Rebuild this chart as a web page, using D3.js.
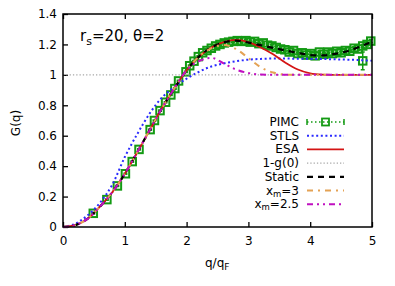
<!DOCTYPE html>
<html>
<head>
<meta charset="utf-8">
<script src="https://cdn.jsdelivr.net/npm/d3@7"></script>
<style>
  body { margin: 0; background: #fff; }
  text { font-family: "DejaVu Sans", sans-serif; fill: #000; }
</style>
</head>
<body>
<div id="canvas"></div>
<script>
const width = 395;
const height = 286;
const margin = { top: 14, left: 63, bottom: 59, right: 23 };
const iwidth = width - margin.left - margin.right;
const iheight = height - margin.top - margin.bottom;

// theory curves on a q grid of 0.2
const qGrid = [0, 0.2, 0.4, 0.6, 0.8, 1.0, 1.2, 1.4, 1.6, 1.8, 2.0, 2.2, 2.4,
  2.6, 2.8, 3.0, 3.2, 3.4, 3.6, 3.8, 4.0, 4.2, 4.4, 4.6, 4.8, 5.0];
const stls = [0, 0.022, 0.077, 0.16, 0.28, 0.46, 0.61, 0.745, 0.85, 0.92, 0.975,
  1.02, 1.055, 1.075, 1.09, 1.1, 1.105, 1.107, 1.107, 1.106, 1.105, 1.104,
  1.102, 1.1, 1.097, 1.093];
const esa = [0, 0.012, 0.055, 0.135, 0.23, 0.35, 0.49, 0.635, 0.78, 0.91, 1.03,
  1.12, 1.18, 1.215, 1.23, 1.215, 1.18, 1.135, 1.08, 1.035, 1.01, 1.002, 1.0,
  1.0, 1.0, 1.0];
const staticG = [0, 0.012, 0.055, 0.135, 0.23, 0.35, 0.49, 0.635, 0.78, 0.91,
  1.03, 1.12, 1.18, 1.213, 1.225, 1.212, 1.195, 1.177, 1.16, 1.145, 1.13, 1.128,
  1.138, 1.155, 1.185, 1.217];
const xm3 = [0, 0.012, 0.055, 0.135, 0.23, 0.35, 0.49, 0.635, 0.78, 0.91, 1.03,
  1.12, 1.175, 1.197, 1.17, 1.11, 1.05, 1.015, 1.002, 1.0, 1.0, 1.0, 1.0, 1.0,
  1.0, 1.0];
const xm25 = [0, 0.012, 0.055, 0.135, 0.23, 0.35, 0.49, 0.635, 0.78, 0.91, 1.03,
  1.09, 1.112, 1.075, 1.035, 1.012, 1.002, 1.0, 1.0, 1.0, 1.0, 1.0, 1.0, 1.0,
  1.0, 1.0];
const oneMinusG0 = 1.0;

// PIMC points
const pimcQ = [0.49, 0.71, 0.88, 1.01, 1.12, 1.23, 1.41, 1.48, 1.57, 1.66, 1.745,
  1.81, 1.87, 1.99, 2.05, 2.12, 2.19, 2.26, 2.33, 2.40, 2.47, 2.54, 2.61, 2.68,
  2.75, 2.82, 2.89, 2.96, 3.03, 3.10, 3.17, 3.24, 3.31, 3.38, 3.45, 3.52, 3.59,
  3.66, 3.73, 3.80, 3.87, 3.94, 4.01, 4.08, 4.15, 4.22, 4.29, 4.36, 4.43, 4.50,
  4.57, 4.64, 4.71, 4.78, 4.85, 4.85, 4.92, 4.98];
const pimcG = [0.09, 0.18, 0.27, 0.35, 0.43, 0.51, 0.64, 0.70, 0.765, 0.82, 0.868,
  0.91, 0.96, 1.02, 1.06, 1.09, 1.12, 1.145, 1.16, 1.175, 1.19, 1.20, 1.21, 1.215,
  1.22, 1.225, 1.22, 1.225, 1.215, 1.22, 1.205, 1.21, 1.195, 1.19, 1.18, 1.17,
  1.165, 1.15, 1.16, 1.14, 1.145, 1.13, 1.14, 1.125, 1.15, 1.135, 1.15, 1.14,
  1.155, 1.145, 1.16, 1.155, 1.175, 1.17, 1.19, 1.092, 1.2, 1.222];
const pimcErr = [0.004, 0.004, 0.004, 0.004, 0.004, 0.004, 0.004, 0.004, 0.004,
  0.004, 0.004, 0.004, 0.004, 0.004, 0.004, 0.004, 0.006, 0.006, 0.006, 0.006,
  0.006, 0.006, 0.006, 0.006, 0.006, 0.006, 0.006, 0.006, 0.008, 0.008, 0.008,
  0.008, 0.008, 0.008, 0.008, 0.008, 0.008, 0.008, 0.008, 0.008, 0.008, 0.008,
  0.01, 0.01, 0.01, 0.01, 0.01, 0.01, 0.01, 0.01, 0.01, 0.01, 0.01, 0.01, 0.01,
  0.058, 0.01, 0.01];

const xTicks = [0, 1, 2, 3, 4, 5];
const yTicks = [0, 0.2, 0.4, 0.6, 0.8, 1, 1.2, 1.4];

const svg = d3.select("#canvas").append("svg")
  .attr("width", width)
  .attr("height", height);

const g = svg.append("g")
  .attr("transform", `translate(${margin.left},${margin.top})`);

const x = d3.scaleLinear().domain([0, 5]).range([0, iwidth]);
const y = d3.scaleLinear().domain([0, 1.4]).range([iheight, 0]);

// axes, ticks pointing inward
g.append("g")
  .attr("transform", `translate(0,${iheight})`)
  .call(d3.axisBottom(x).tickValues(xTicks).tickSize(-5).tickPadding(9.5)
    .tickFormat(d3.format("d")))
  .call((a) => a.select(".domain").remove());
g.append("g")
  .call(d3.axisTop(x).tickValues(xTicks).tickSize(-5).tickFormat(""))
  .call((a) => a.select(".domain").remove());
g.append("g")
  .call(d3.axisLeft(y).tickValues(yTicks).tickSize(-5).tickPadding(6)
    .tickFormat((d) => (d === 0 || d === 1 ? d3.format("d")(d) : d3.format(".1f")(d))))
  .call((a) => a.select(".domain").remove());

g.selectAll(".tick line").attr("stroke", "#000").attr("stroke-width", 1.3);
g.selectAll(".tick text").attr("font-size", 12).attr("font-family", "DejaVu Sans");

const theory = (vals) => qGrid.map((q, i) => [q, vals[i]]);
const line = d3.line()
  .x((d) => x(d[0]))
  .y((d) => y(d[1]))
  .curve(d3.curveMonotoneX);

const plot = g.append("g");

// PIMC: dotted line, error bars, open squares
const pimc = pimcQ.map((q, i) => [q, pimcG[i], pimcErr[i]]);
const green = "#139a13";
plot.append("path")
  .datum(pimc.filter((d, i) => i !== 55))
  .attr("fill", "none")
  .attr("stroke", green)
  .attr("stroke-width", 1.5)
  .attr("stroke-dasharray", "1.5,2.5")
  .attr("d", d3.line().x((d) => x(d[0])).y((d) => y(d[1])));
plot.selectAll(".err")
  .data(pimc)
  .enter()
  .append("path")
  .attr("fill", "none")
  .attr("stroke", green)
  .attr("stroke-width", 1.5)
  .attr("d", (d) => {
    const px = x(d[0]), lo = y(d[1] - d[2]), hi = y(d[1] + d[2]);
    return `M${px},${lo}V${hi}M${px - 2},${lo}H${px + 2}M${px - 2},${hi}H${px + 2}`;
  });
plot.selectAll(".pt")
  .data(pimc)
  .enter()
  .append("rect")
  .attr("x", (d) => x(d[0]) - 3.75)
  .attr("y", (d) => y(d[1]) - 3.75)
  .attr("width", 7.5)
  .attr("height", 7.5)
  .attr("fill", "none")
  .attr("stroke", green)
  .attr("stroke-width", 2);

const styles = [
  { data: stls, color: "#2a2aff", w: 2, dash: "2,2.6" },
  { data: esa, color: "#d41414", w: 1.8, dash: null },
  { data: qGrid.map(() => oneMinusG0), color: "#a8a8a8", w: 1.2, dash: "1.3,2" },
  { data: staticG, color: "#000", w: 2.2, dash: "6,5" },
  { data: xm3, color: "#e4a254", w: 2, dash: "6,5,2,5" },
  { data: xm25, color: "#c010c0", w: 2, dash: "6,4,2,4,2,4" },
];
styles.forEach((s) => {
  plot.append("path")
    .datum(theory(s.data))
    .attr("fill", "none")
    .attr("stroke", s.color)
    .attr("stroke-width", s.w)
    .attr("stroke-dasharray", s.dash)
    .attr("d", line);
});

// border
g.append("rect")
  .attr("width", iwidth)
  .attr("height", iheight)
  .attr("fill", "none")
  .attr("stroke", "#000")
  .attr("stroke-width", 1.5);

// title
const title = svg.append("text")
  .attr("x", 80)
  .attr("y", 41)
  .attr("font-size", 15);
title.append("tspan").text("r");
title.append("tspan").attr("font-size", 11).attr("dy", 4).text("s");
title.append("tspan").attr("dy", -4).text("=20, θ=2");

// axis labels
svg.append("text")
  .attr("transform", "translate(20,123) rotate(-90)")
  .attr("text-anchor", "middle")
  .attr("font-size", 12)
  .text("G(q)");
const xl = svg.append("text")
  .attr("x", 205)
  .attr("y", 267)
  .attr("font-size", 12);
xl.append("tspan").text("q/q");
xl.append("tspan").attr("font-size", 9).attr("dy", 3).text("F");

// legend
const legendRows = [
  { label: ["PIMC"], color: green, w: 1.5, dash: "1.5,2.5" },
  { label: ["STLS"], color: "#2a2aff", w: 2, dash: "2,2.6" },
  { label: ["ESA"], color: "#d41414", w: 1.8, dash: null },
  { label: ["1-g(0)"], color: "#a8a8a8", w: 1.2, dash: "1.3,2" },
  { label: ["Static"], color: "#000", w: 2.2, dash: "6,5" },
  { label: ["x", "m", "=3"], color: "#e4a254", w: 2, dash: "6,5,2,5" },
  { label: ["x", "m", "=2.5"], color: "#c010c0", w: 2, dash: "6,4,2,4,2,4" },
];
const legend = svg.append("g");
legendRows.forEach((r, i) => {
  const ly = 122 + i * 13.7;
  const t = legend.append("text")
    .attr("x", 299)
    .attr("y", ly + 4)
    .attr("text-anchor", "end")
    .attr("font-size", 12);
  if (r.label.length === 1) {
    t.text(r.label[0]);
  } else {
    t.append("tspan").text(r.label[0]);
    t.append("tspan").attr("font-size", 8.5).attr("dy", 2).text(r.label[1]);
    t.append("tspan").attr("dy", -2).text(r.label[2]);
  }
  legend.append("line")
    .attr("x1", 307).attr("x2", 344)
    .attr("y1", ly).attr("y2", ly)
    .attr("stroke", r.color)
    .attr("stroke-width", r.w)
    .attr("stroke-dasharray", r.dash);
  if (i === 0) {
    legend.append("path")
      .attr("fill", "none")
      .attr("stroke", green)
      .attr("stroke-width", 1.5)
      .attr("d", `M307,${ly - 3}V${ly + 3}M344,${ly - 3}V${ly + 3}`);
    legend.append("rect")
      .attr("x", 322).attr("y", ly - 3.5)
      .attr("width", 7).attr("height", 7)
      .attr("fill", "none")
      .attr("stroke", green)
      .attr("stroke-width", 1.8);
  }
});
</script>
</body>
</html>
